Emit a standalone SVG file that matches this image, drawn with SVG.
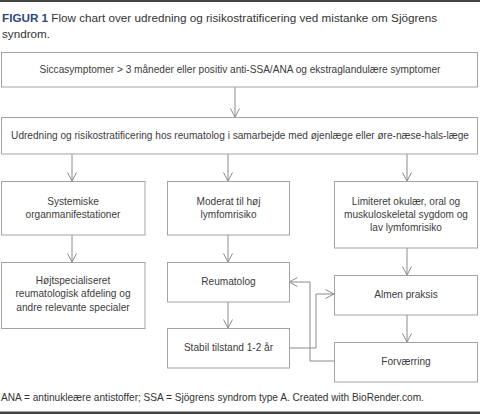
<svg xmlns="http://www.w3.org/2000/svg" width="480" height="414" viewBox="0 0 480 414">
<defs>
<style>
.box{fill:#fff;stroke:#a3a3a3;stroke-width:1}
.t{font-family:"Liberation Sans",Arial,sans-serif;font-size:10.1px;fill:#3c3c3c;text-anchor:middle}
.ttl{font-family:"Liberation Sans",Arial,sans-serif;font-size:11.7px;fill:#333}
.ft{font-family:"Liberation Sans",Arial,sans-serif;font-size:10.1px;fill:#333}
.c{fill:none;stroke:#8c8c8c;stroke-width:1;marker-end:url(#ah)}
</style>
<marker id="ah" viewBox="0 0 10 10" refX="9.5" refY="5" markerWidth="10" markerHeight="10" markerUnits="userSpaceOnUse" orient="auto">
<path d="M1,0.5 L9.5,5 L1,9.5" fill="none" stroke="#8c8c8c" stroke-width="1"/>
</marker>
</defs>
<rect x="0" y="0" width="480" height="414" fill="#fff"/>
<rect x="0" y="0" width="480" height="2" fill="#444"/>
<rect x="0" y="411.5" width="480" height="2.5" fill="#444"/>
<text class="ttl" x="2" y="22"><tspan font-weight="bold" fill="#2c4a7c">FIGUR 1</tspan> Flow chart over udredning og risikostratificering ved mistanke om Sjögrens</text>
<text class="ttl" x="2" y="38">syndrom.</text>

<g id="connectors">
<line class="c" x1="235" y1="87" x2="235" y2="117"/>
<line class="c" x1="72" y1="154" x2="72" y2="181"/>
<line class="c" x1="228" y1="154" x2="228" y2="181"/>
<line class="c" x1="407" y1="154" x2="407" y2="181"/>
<line class="c" x1="72" y1="235" x2="72" y2="262"/>
<line class="c" x1="228" y1="235" x2="228" y2="262"/>
<line class="c" x1="407" y1="248" x2="407" y2="275"/>
<line class="c" x1="228" y1="302" x2="228" y2="328"/>
<line class="c" x1="407" y1="315" x2="407" y2="342"/>
<polyline class="c" points="289,348 316,348 316,294 334,294"/>
<polyline class="c" points="334,361 310,361 310,282 289,282"/>
</g>

<g id="n1"><rect class="box" x="1.5" y="52.5" width="476" height="34.5"/>
<text class="t" x="240" y="73">Siccasymptomer &gt; 3 måneder eller positiv anti-SSA/ANA og ekstraglandulære symptomer</text></g>
<g id="n2"><rect class="box" x="1.5" y="117.5" width="476" height="36.5"/>
<text class="t" x="240" y="139">Udredning og risikostratificering hos reumatolog i samarbejde med øjenlæge eller øre-næse-hals-læge</text></g>
<g id="n3"><rect class="box" x="1.5" y="181.5" width="143.5" height="53.5"/>
<text class="t" x="73" y="204.5">Systemiske</text><text class="t" x="73" y="217.5">organmanifestationer</text></g>
<g id="n4"><rect class="box" x="167.5" y="181.5" width="122" height="53.5"/>
<text class="t" x="228.5" y="204.5">Moderat til høj</text><text class="t" x="228.5" y="217.5">lymfomrisiko</text></g>
<g id="n5"><rect class="box" x="334.5" y="181.5" width="143" height="66.5"/>
<text class="t" x="406" y="204.5">Limiteret okulær, oral og</text><text class="t" x="406" y="217.5">muskuloskeletal sygdom og</text><text class="t" x="406" y="230.5">lav lymfomrisiko</text></g>
<g id="n6"><rect class="box" x="1.5" y="262.5" width="143.5" height="66"/>
<text class="t" x="73" y="283.5">Højtspecialiseret</text><text class="t" x="73" y="297">reumatologisk afdeling og</text><text class="t" x="73" y="310.5">andre relevante specialer</text></g>
<g id="n7"><rect class="box" x="167.5" y="262.5" width="122" height="39.5"/>
<text class="t" x="228.5" y="285">Reumatolog</text></g>
<g id="n8"><rect class="box" x="334.5" y="275.5" width="143" height="39.5"/>
<text class="t" x="406" y="298">Almen praksis</text></g>
<g id="n9"><rect class="box" x="167.5" y="328.5" width="122" height="39.5"/>
<text class="t" x="228.5" y="351">Stabil tilstand 1-2 år</text></g>
<g id="n10"><rect class="box" x="334.5" y="342.5" width="143" height="39.5"/>
<text class="t" x="406" y="364.5">Forværring</text></g>

<text class="ft" x="1" y="401">ANA = antinukleære antistoffer; SSA = Sjögrens syndrom type A. Created with BioRender.com.</text>
</svg>
